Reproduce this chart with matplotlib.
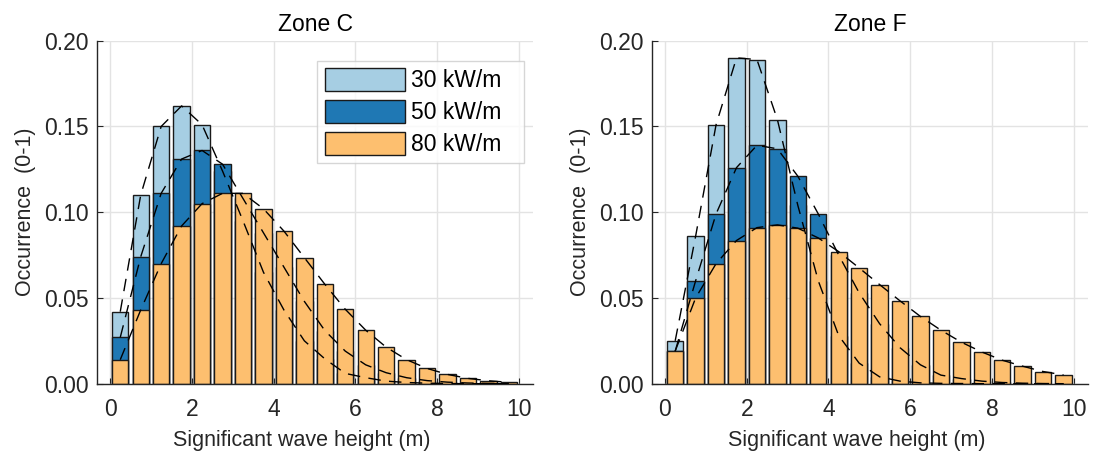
import matplotlib
matplotlib.use("Agg")
import matplotlib.pyplot as plt
import numpy as np

# ---------------------------------------------------------------------
# Data
# ---------------------------------------------------------------------
hs_centres = [0.25, 0.75, 1.25, 1.75, 2.25, 2.75, 3.25, 3.75, 4.25, 4.75,
              5.25, 5.75, 6.25, 6.75, 7.25, 7.75, 8.25, 8.75, 9.25, 9.75]

series_labels = ["30 kW/m", "50 kW/m", "80 kW/m"]

zone_c_30 = [0.042, 0.110, 0.150, 0.162, 0.151, 0.124, 0.095, 0.065, 0.043, 0.025,
             0.0145, 0.006, 0.0035, 0.0015, 0.0007, 0.0003, 0.0001, 0.0, 0.0, 0.0]
zone_c_50 = [0.027, 0.074, 0.111, 0.131, 0.136, 0.128, 0.108, 0.088, 0.068, 0.048,
             0.031, 0.019, 0.011, 0.0064, 0.0035, 0.0018, 0.0009, 0.0004, 0.0002, 0.0001]
zone_c_80 = [0.014, 0.043, 0.070, 0.092, 0.105, 0.111, 0.111, 0.102, 0.089, 0.0735,
             0.058, 0.0434, 0.0312, 0.0213, 0.014, 0.0089, 0.0054, 0.0031, 0.0017, 0.0008]

zone_f_30 = [0.025, 0.086, 0.151, 0.190, 0.189, 0.154, 0.104, 0.060, 0.028, 0.012,
             0.004, 0.0015, 0.0005, 0.0002, 0.0001, 0.0, 0.0, 0.0, 0.0, 0.0]
zone_f_50 = [0.019, 0.060, 0.099, 0.126, 0.139, 0.137, 0.121, 0.099, 0.075, 0.053,
             0.035, 0.021, 0.011, 0.005, 0.003, 0.0015, 0.0007, 0.0003, 0.0001, 0.0]
zone_f_80 = [0.019, 0.050, 0.070, 0.0835, 0.091, 0.0926, 0.0907, 0.085, 0.077, 0.0675,
             0.0578, 0.0483, 0.0392, 0.0312, 0.0242, 0.0185, 0.0137, 0.0102, 0.0071, 0.0051]

zones = [
    ("Zone C", [zone_c_30, zone_c_50, zone_c_80]),
    ("Zone F", [zone_f_30, zone_f_50, zone_f_80]),
]

colors = ["#a6cee3", "#1f78b4", "#fdbf6f"]
text_col = "#262626"

plt.rcParams.update({
    "font.family": ["Liberation Sans", "DejaVu Sans"],
    "font.size": 15,
    "axes.edgecolor": "#262626",
    "xtick.color": text_col,
    "ytick.color": text_col,
    "xtick.direction": "in",
    "ytick.direction": "in",
})

fig = plt.figure(figsize=(10.95, 4.57), dpi=100)
positions = [
    [0.0889, 0.1604, 0.3979, 0.7505],
    [0.5957, 0.1604, 0.3976, 0.7505],
]

for i, (title, series) in enumerate(zones):
    ax = fig.add_axes(positions[i])
    x = np.array(hs_centres)

    # bars drawn from zero, overlapping: 30 behind, 80 in front
    for vals, col, lab in zip(series, colors, series_labels):
        ax.bar(x, vals, width=0.4, color=col, edgecolor="#1a1a1a",
               linewidth=1.0, label=lab, zorder=2)

    for vals in series:
        ax.plot(x, vals, color="black", linewidth=1.0,
                linestyle=(0, (9, 6)), zorder=3)

    ax.set_xlim(-0.31, 10.34)
    ax.set_ylim(0, 0.2)
    ax.set_xticks(np.arange(0, 11, 2))
    ax.set_yticks(np.arange(0, 0.201, 0.05))
    ax.set_yticklabels([f"{v:.2f}" for v in np.arange(0, 0.201, 0.05)])
    ax.tick_params(labelsize=16.5, length=4, width=0.8)
    ax.tick_params(axis="x", pad=10)
    ax.tick_params(axis="y", pad=6)

    ax.grid(True, color="#e3e3e3", linewidth=1.0, zorder=0)
    ax.set_axisbelow(True)
    ax.spines["top"].set_visible(False)
    ax.spines["right"].set_visible(False)
    ax.spines["left"].set_linewidth(1.0)
    ax.spines["bottom"].set_linewidth(1.0)

    ax.set_title(title, fontsize=16.5, color="black", pad=7)
    ax.set_xlabel("Significant wave height (m)", fontsize=15.5, color=text_col)
    ax.xaxis.set_label_coords(0.47, -0.135)
    ax.set_ylabel("Occurrence  (0-1)", fontsize=15.5, color=text_col, labelpad=6)

    if i == 0:
        leg = ax.legend(loc="upper left", bbox_to_anchor=(0.505, 0.636, 0.474, 0.306),
                        mode="expand", fontsize=16.5, frameon=True, fancybox=False,
                        handlelength=3.5, handleheight=1.2,
                        labelspacing=0.32, handletextpad=0.27,
                        borderpad=0.32, borderaxespad=0.0)
        leg.get_frame().set_edgecolor("#cccccc")
        leg.get_frame().set_linewidth(1.0)
        for t in leg.get_texts():
            t.set_color("black")

fig.savefig("out.png", dpi=100, facecolor="white")
